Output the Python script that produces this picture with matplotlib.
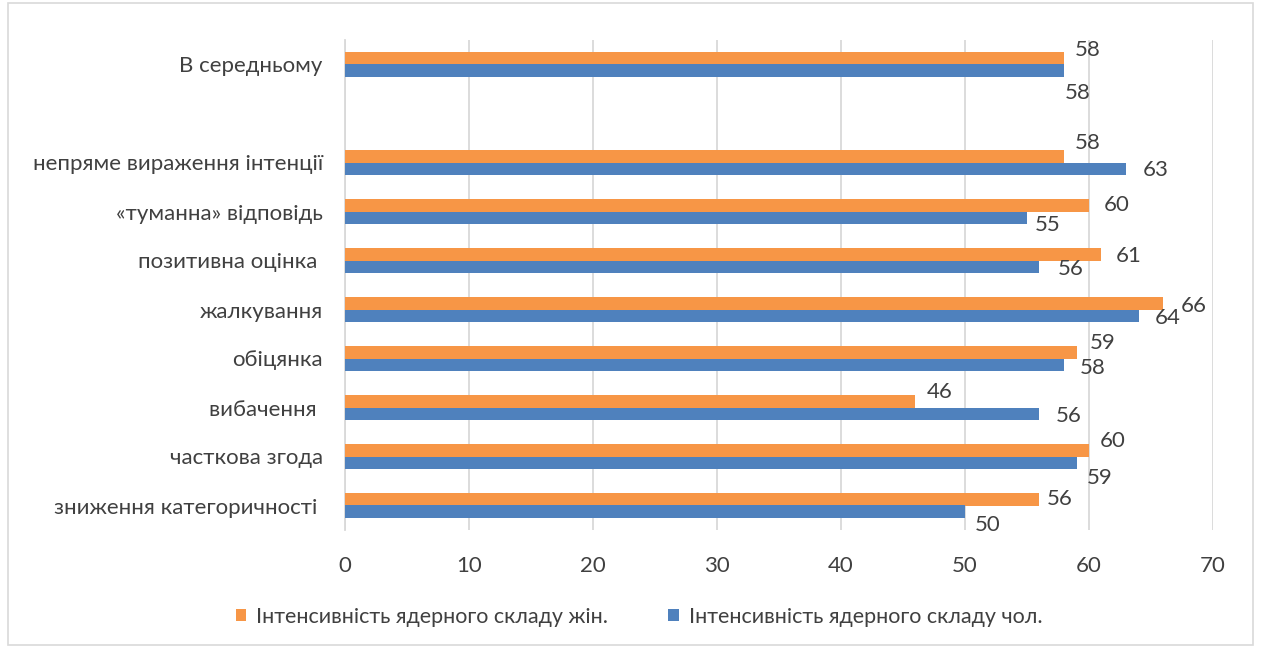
import matplotlib
matplotlib.use("Agg")
import matplotlib.pyplot as plt
import numpy as np
from matplotlib.patches import Rectangle

plt.rcParams['font.family'] = ['Lato', 'DejaVu Sans']

# Data (top to bottom as displayed)
categories = ["В середньому", "", "непряме вираження інтенції", "«туманна» відповідь",
              "позитивна оцінка ", "жалкування", "обіцянка", "вибачення ",
              "часткова згода", "зниження категоричності "]
women = [58, np.nan, 58, 60, 61, 66, 59, 46, 60, 56]
men = [58, np.nan, 63, 55, 56, 64, 58, 56, 59, 50]
series_names = ["Інтенсивність ядерного складу жін.", "Інтенсивність ядерного складу чол."]
xticks = [0, 10, 20, 30, 40, 50, 60, 70]

# label offsets in pixels (dx from bar end, dy from bar centre)
w_off = [(24, 8), None, (24, 13), (28, 0), (27, -2), (30, -3), (26, 9), (24, 9), (24, 9), (20, 0)]
m_off = [(14, -22), None, (29, -1), (21, -7), (31, -2), (29, -2), (29, -3), (29, -2), (23, -15), (23, -13)]

orange = "#F79646"
blue = "#4F81BD"
txt = "#404040"
grid = "#D9D9D9"
fs = 16

fig = plt.figure(figsize=(12.61, 6.48), dpi=100)
ax = fig.add_axes([345/1261, 1 - 530/648, (1213-345)/1261, (530-40)/648])

n = len(categories)
pos = np.arange(n)[::-1]  # top category at highest position
h = 0.264
ax.barh(pos + h/2, women, height=h, color=orange, label=series_names[0], zorder=3)
ax.barh(pos - h/2, men, height=h, color=blue, label=series_names[1], zorder=3)

for i in range(n):
    if w_off[i] is not None:
        ax.annotate(f"{women[i]:.0f}", (women[i], pos[i] + h/2), xytext=w_off[i],
                    textcoords='offset pixels', ha='center', va='center',
                    fontsize=fs, color=txt)
    if m_off[i] is not None:
        ax.annotate(f"{men[i]:.0f}", (men[i], pos[i] - h/2), xytext=m_off[i],
                    textcoords='offset pixels', ha='center', va='center',
                    fontsize=fs, color=txt)

ax.set_xlim(0, 70)
ax.set_ylim(-0.5, n - 0.5)
ax.set_xticks(xticks)
ax.set_xticklabels([str(t) for t in xticks], fontsize=fs, color=txt)
ax.set_yticks(pos)
ax.set_yticklabels(categories, fontsize=fs, color=txt)
ax.tick_params(axis='both', length=0)
ax.tick_params(axis='x', pad=19)
ax.tick_params(axis='y', pad=16)
ax.xaxis.grid(True, color=grid, linewidth=1.3, zorder=0)
for s in ['top', 'right', 'bottom']:
    ax.spines[s].set_visible(False)
ax.spines['left'].set_color(grid)
ax.spines['left'].set_linewidth(1.3)

leg = fig.legend(loc='center', bbox_to_anchor=(639/1261, 1 - 617/648), ncol=2,
                 frameon=False, fontsize=15.5, handlelength=0.5, handleheight=0.5,
                 handletextpad=0.45, columnspacing=2.8)
for t in leg.get_texts():
    t.set_color(txt)

fig.patches.append(Rectangle((8/1261, 3/648), (1253-8)/1261, (645-3)/648,
                             transform=fig.transFigure, fill=False,
                             edgecolor=grid, linewidth=1.2))

fig.savefig("out.png", dpi=100)
